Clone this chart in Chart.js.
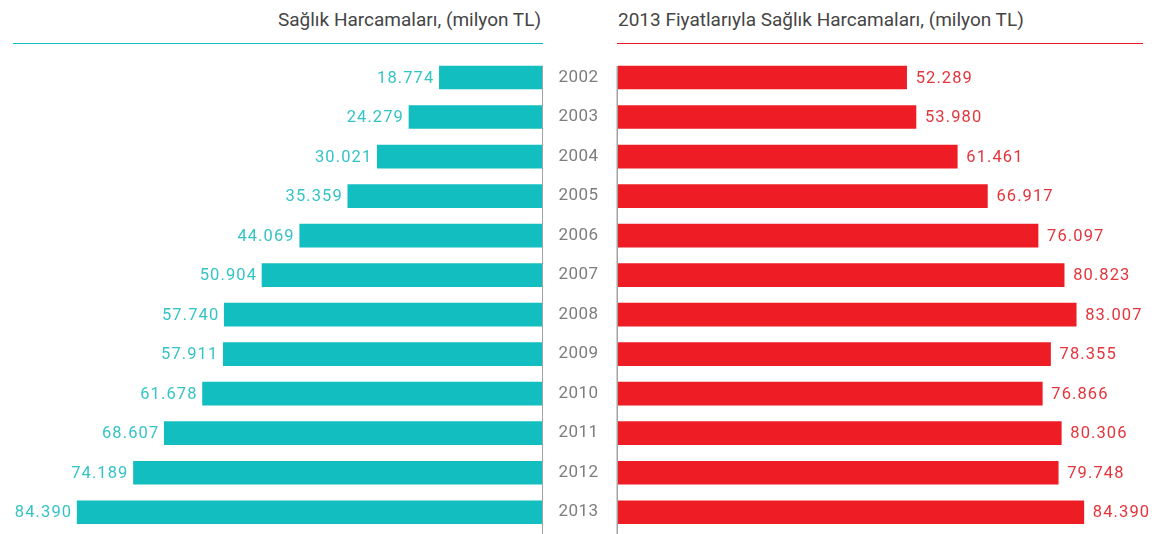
<!DOCTYPE html>
<html>
<head>
<meta charset="utf-8">
<script src="https://cdn.jsdelivr.net/npm/chart.js@4.4.0/dist/chart.umd.min.js"></script>
<style>
  html, body { margin: 0; padding: 0; background: #fff; }
  #wrap { position: relative; width: 1157px; height: 534px; overflow: hidden; font-family: Roboto, "Noto Sans", sans-serif; }
  canvas { position: absolute; top: 0; }
  .title { position: absolute; top: 8px; font-size: 19px; color: #454545; white-space: nowrap; line-height: 24px; }
  .rule { position: absolute; top: 43px; height: 1px; }
</style>
</head>
<body>
<div id="wrap">
  <div class="title" style="right:616px;">Sağlık Harcamaları, (milyon TL)</div>
  <div class="rule" style="left:13px; width:530px; background:#13bec0;"></div>
  <div class="title" style="left:618px;">2013 Fiyatlarıyla Sağlık Harcamaları, (milyon TL)</div>
  <div class="rule" style="left:617px; width:526px; background:#ed1c24;"></div>
  <canvas id="left" width="543" height="534" style="left:0;"></canvas>
  <canvas id="right" width="614" height="534" style="left:543px;"></canvas>
</div>
<script>
const years = ['2002','2003','2004','2005','2006','2007','2008','2009','2010','2011','2012','2013'];
const nominalSpending = [18.774, 24.279, 30.021, 35.359, 44.069, 50.904, 57.740, 57.911, 61.678, 68.607, 74.189, 84.390];
const realSpending2013 = [52.289, 53.980, 61.461, 66.917, 76.097, 80.823, 83.007, 78.355, 76.866, 80.306, 79.748, 84.390];

function fmt(v) { return v.toFixed(3); }

function labelPlugin(side, color) {
  return {
    id: 'labels_' + side,
    afterDatasetsDraw(chart) {
      const ctx = chart.ctx;
      const meta = chart.getDatasetMeta(0);
      const data = chart.data.datasets[0].data;
      ctx.save();
      ctx.font = '16.5px Roboto, sans-serif';
      try { ctx.letterSpacing = '1.1px'; } catch (e) {}
      ctx.fillStyle = color;
      ctx.textBaseline = 'middle';
      meta.data.forEach((bar, i) => {
        if (side === 'left') {
          ctx.textAlign = 'right';
          ctx.fillText(fmt(data[i]), bar.x - 5, bar.y + 1);
        } else {
          ctx.textAlign = 'left';
          ctx.fillText(fmt(data[i]), bar.x + 9, bar.y + 1);
        }
      });
      // year labels in the middle gap (right chart only)
      if (side === 'right') {
        ctx.font = '17px Roboto, sans-serif';
        try { ctx.letterSpacing = '0.5px'; } catch (e) {}
        ctx.fillStyle = '#7d7d7d';
        ctx.textAlign = 'center';
        const labels = chart.data.labels;
        meta.data.forEach((bar, i) => {
          ctx.fillText(labels[i], chart.chartArea.left - 39.5, bar.y);
        });
      }
      // divider line
      const first = meta.data[0];
      const top = first.y - first.height / 2;
      const x = side === 'left' ? chart.chartArea.right - 0.25 : chart.chartArea.left - 0.75;
      ctx.strokeStyle = '#a3a3a3';
      ctx.lineWidth = 1.5;
      ctx.beginPath();
      ctx.moveTo(x, top);
      ctx.lineTo(x, chart.height);
      ctx.stroke();
      ctx.restore();
    }
  };
}

const common = {
  responsive: false,
  animation: false,
  indexAxis: 'y',
  plugins: { legend: { display: false }, tooltip: { enabled: false } },
};

new Chart(document.getElementById('left'), {
  type: 'bar',
  data: {
    labels: years,
    datasets: [{ data: nominalSpending, backgroundColor: '#12bec0', barThickness: 23 }]
  },
  options: Object.assign({}, common, {
    layout: { padding: { top: 57.75, bottom: 2, left: 0, right: 0 } },
    scales: {
      x: { display: false, reverse: true, min: 0, max: 543 / 5.52 },
      y: { display: false }
    }
  }),
  plugins: [labelPlugin('left', '#36c3c6')]
});

new Chart(document.getElementById('right'), {
  type: 'bar',
  data: {
    labels: years,
    datasets: [{ data: realSpending2013, backgroundColor: '#ee1c25', barThickness: 23 }]
  },
  options: Object.assign({}, common, {
    layout: { padding: { top: 57.75, bottom: 2, left: 75, right: 0 } },
    scales: {
      x: { display: false, min: 0, max: 539 / 5.52 },
      y: { display: false }
    }
  }),
  plugins: [labelPlugin('right', '#e3353c')]
});
</script>
</body>
</html>
